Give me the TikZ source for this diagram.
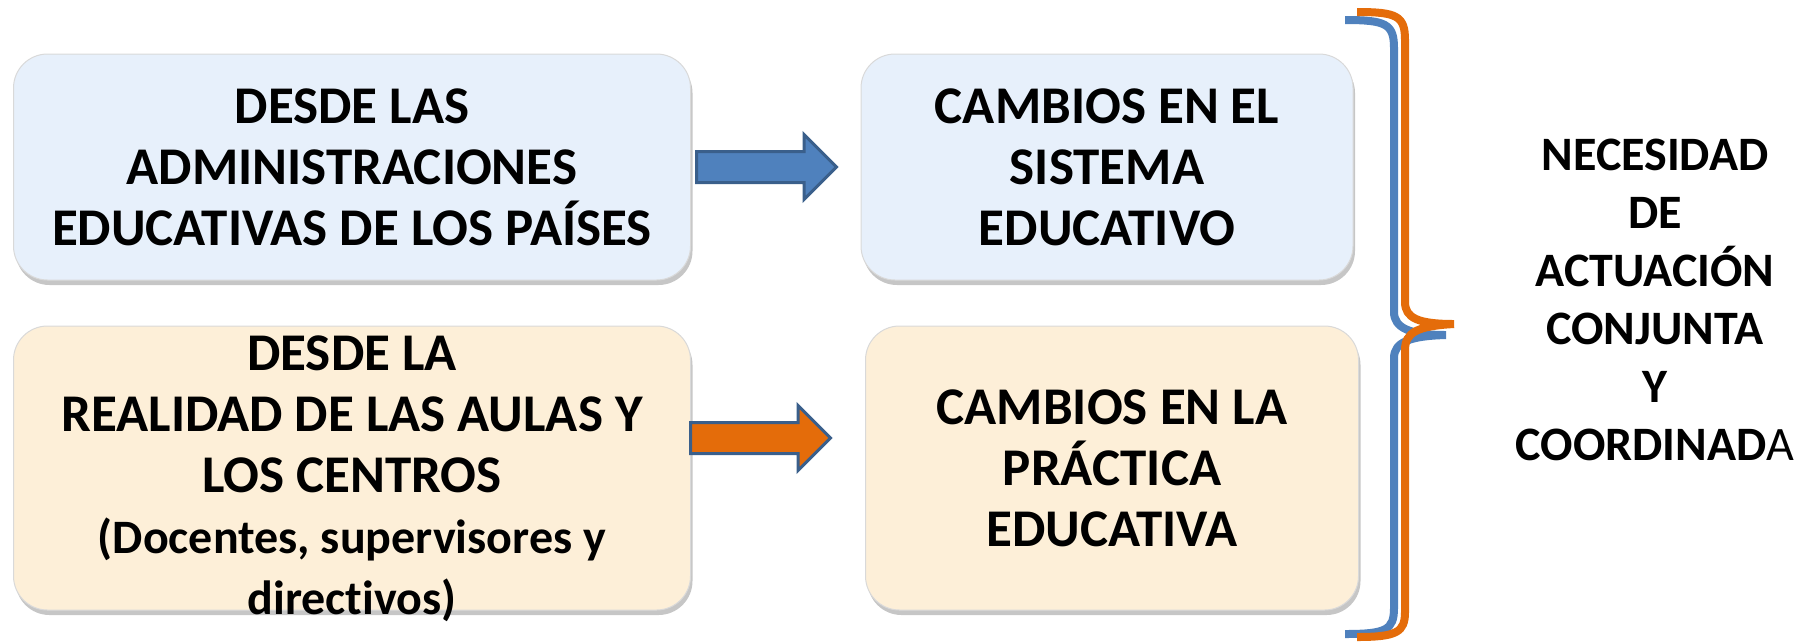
\documentclass[tikz,border=0pt]{standalone}
\usepackage{fontspec}
\setmainfont{Carlito}[Ligatures=NoCommon]
\usepackage{tikz}
\usetikzlibrary{shapes,arrows,positioning,shadows,calc}
\definecolor{azulclaro}{HTML}{E7F0FB}
\definecolor{crema}{HTML}{FDEFD8}
\definecolor{azul}{HTML}{4F81BD}
\definecolor{azulosc}{HTML}{3A5F8B}
\definecolor{naranja}{HTML}{E46C0A}

\begin{document}
\begin{tikzpicture}[x=1pt,y=-1pt,
	caja/.style={rounded corners=34pt, draw=gray!30, line width=1pt, align=center,
		font=\fontsize{53}{61}\selectfont\bfseries,
		drop shadow={shadow xshift=2pt,shadow yshift=-5pt,opacity=.45}},
	flecha/.style={single arrow, single arrow head extend=17pt, inner xsep=0pt,
		inner ysep=14pt, minimum height=140pt, line width=3pt, draw=azulosc}]
		\useasboundingbox (0,0) rectangle (1806,641);
		\node[caja,fill=azulclaro,minimum width=677pt,minimum height=226pt] (admin) at (352,167) {DESDE LAS\\ ADMINISTRACIONES\\ EDUCATIVAS DE LOS PAÍSES};
		\node[caja,fill=azulclaro,minimum width=492pt,minimum height=226pt] (sistema) at (1107,167) {CAMBIOS EN EL\\ SISTEMA\\ EDUCATIVO};
		\node[caja,fill=crema,minimum width=677pt,minimum height=284pt,inner ysep=-20pt] (aulas) at (352,468) {\rule{0pt}{56pt}DESDE LA\\ REALIDAD DE LAS AULAS Y\\ LOS CENTROS\\ {\fontsize{48}{61}\selectfont (Docentes, supervisores y}\\ {\fontsize{48}{61}\selectfont directivos)}};
		\node[caja,fill=crema,minimum width=493pt,minimum height=284pt] (practica) at (1112,468) {CAMBIOS EN LA\\ PRÁCTICA\\ EDUCATIVA};
		\node[flecha,fill=azul,right=4pt of admin] (f1) {};
		\node[flecha,fill=naranja,right=-2pt of aulas,yshift=30pt] (f2) {};
		\draw[azul,line width=8pt] (1345,20) .. controls (1386,20) and (1394,24) .. (1394,48) -- (1394,312) .. controls (1394,328) and (1410,335) .. (1446,335) .. controls (1410,336) and (1394,342) .. (1394,358) -- (1394,608) .. controls (1394,630) and (1386,634) .. (1345,634);
		\draw[naranja,line width=8pt] (1357,12) .. controls (1397,12) and (1405,16) .. (1405,40) -- (1405,302) .. controls (1405,318) and (1418,324) .. (1454,324) .. controls (1418,326) and (1405,332) .. (1405,350) -- (1405,612) .. controls (1405,632) and (1397,637) .. (1357,637);
		\node[align=center,font=\fontsize{48}{58}\selectfont\bfseries] (necesidad) at (1655,300) {NECESIDAD\\ DE\\ ACTUACIÓN\\ CONJUNTA\\ Y\\ COORDINAD{\mdseries A}};
	\end{tikzpicture}
\end{document}
